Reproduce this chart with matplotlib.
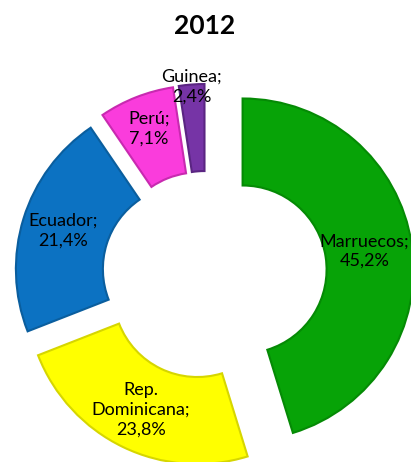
import matplotlib
matplotlib.use("Agg")
import matplotlib.pyplot as plt
import numpy as np

# data
countries = ["Marruecos", "Rep.\nDominicana", "Ecuador", "Perú", "Guinea"]
shares = [45.2, 23.8, 21.4, 7.1, 2.4]
title = "2012"

# style
colors = ["#07A307", "#FFFF00", "#0C72C2", "#FA3CDC", "#7634A6"]
edges = ["#058A05", "#D6D600", "#0A5E9E", "#C82AB0", "#5A2582"]
explode = [37, 20, 20, 20, 20]     # pixels (data units)
label_dist = [0.72, 0.76, 0.76, 0.80, 0.99]

plt.rcParams["font.family"] = ["Lato", "DejaVu Sans"]

fig = plt.figure(figsize=(4.11, 4.62), dpi=100)
ax = fig.add_axes([0, 0, 1, 1])

R = 171
wedges, _ = ax.pie(shares, colors=colors, explode=explode, startangle=90,
                   counterclock=False, radius=R, center=(206, 187),
                   wedgeprops=dict(width=87, linewidth=1.5))
for w, ec in zip(wedges, edges):
    w.set_edgecolor(ec)

ax.set_xlim(0, 411)
ax.set_ylim(0, 462)
ax.set_aspect("equal")
ax.axis("off")

# labels inside the ring
for w, name, val, d in zip(wedges, countries, shares, label_dist):
    ang = np.deg2rad((w.theta1 + w.theta2) / 2)
    cx, cy = w.center
    x = cx + d * R * np.cos(ang)
    y = cy + d * R * np.sin(ang)
    txt = f"{name};\n" + f"{val:.1f}".replace(".", ",") + "%"
    ax.text(x, y, txt, ha="center", va="center", fontsize=13,
            color="black", linespacing=1.3)

ax.text(205, 436, title, ha="center", va="center", fontsize=19,
        fontweight="bold")

fig.savefig("out.png", dpi=100)
